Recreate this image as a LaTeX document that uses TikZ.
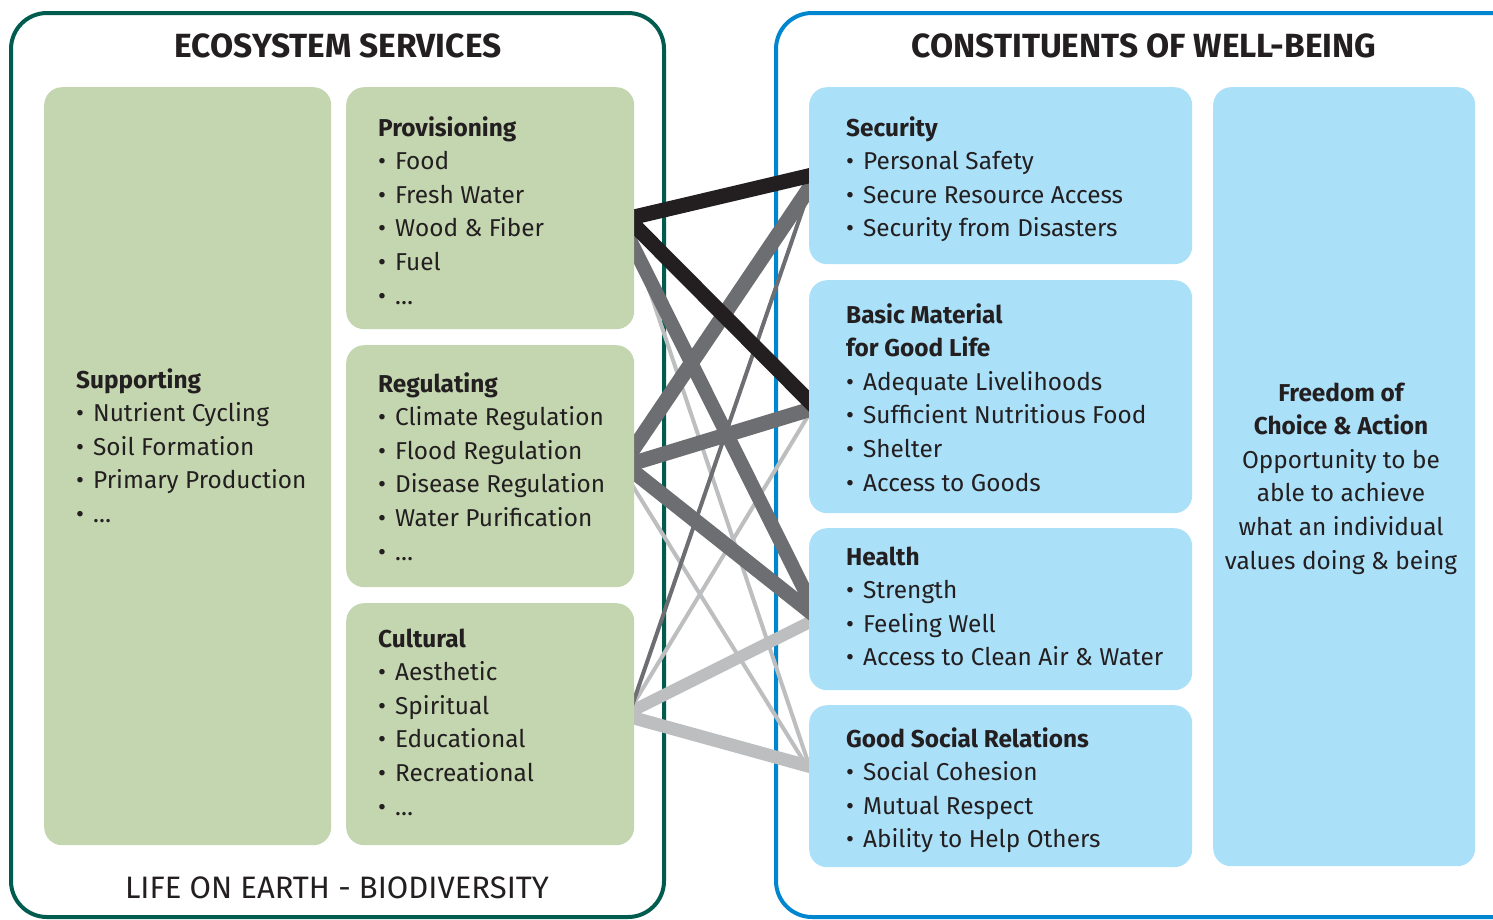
\documentclass[tikz,border=0pt]{standalone}
\usepackage{fontspec}
\setmainfont{Fira Sans}
\definecolor{ecogreen}{RGB}{0,92,78}
\definecolor{wbblue}{RGB}{0,134,206}
\definecolor{boxgreen}{RGB}{196,214,176}
\definecolor{boxblue}{RGB}{171,224,249}
\definecolor{ink}{RGB}{35,31,32}
\definecolor{linkblack}{RGB}{35,31,32}
\definecolor{linkgray}{RGB}{109,110,113}
\definecolor{linklight}{RGB}{188,190,192}
\pgfdeclarelayer{panels}
\pgfdeclarelayer{links}
\pgfsetlayers{panels,links,main}
\newcommand\bul{•\hspace{9pt}}
\begin{document}
\begin{tikzpicture}[x=1pt,y=-1pt,
  gbox/.style={fill=boxgreen, rounded corners=18pt, inner sep=0pt, anchor=north west},
  bbox/.style={fill=boxblue, rounded corners=18pt, inner sep=0pt, anchor=north west},
  headtxt/.style={font=\fontsize{33.5}{40}\selectfont\bfseries, text=ink, inner sep=0pt, anchor=base},
  titletxt/.style={font=\fontsize{24.4}{29}\selectfont\bfseries, text=ink, inner sep=0pt, anchor=base west},
  bodytxt/.style={font=\fontsize{24.4}{29}\selectfont, text=ink, inner sep=0pt, anchor=base west},
  link/.style={line cap=butt, shorten <=-25pt, shorten >=-25pt},
  strongblack/.style={link, draw=linkblack, line width=15pt},
  stronggray/.style={link, draw=linkgray, line width=15pt},
  thingray/.style={link, draw=linkgray, line width=4pt},
  stronglight/.style={link, draw=linklight, line width=12pt},
  thinlight/.style={link, draw=linklight, line width=4pt}]
\useasboundingbox (0,0) rectangle (1493,919);
\begin{pgfonlayer}{panels}
\clip (0,0) rectangle (1493,919);
\draw[draw=ecogreen, line width=4pt, fill=white, rounded corners=36pt] (11,13) rectangle (664,917);
\draw[draw=wbblue, line width=4pt, fill=white, rounded corners=36pt] (776,13) rectangle (1530,917);
\end{pgfonlayer}

% headings
\node[headtxt] (eshead) at (338,57) {ECOSYSTEM SERVICES};
\node[headtxt] (wbhead) at (1144,57) {CONSTITUENTS OF WELL-BEING};
\node[font=\fontsize{31}{36}\selectfont, text=ink, inner sep=0pt, anchor=base] (life) at (337,898) {LIFE ON EARTH - BIODIVERSITY};

% boxes
\node[gbox, minimum width=287pt, minimum height=758pt] (supp) at (44,87) {};
\node[gbox, minimum width=288pt, minimum height=242pt] (prov) at (346,87) {};
\node[gbox, minimum width=288pt, minimum height=242pt] (regu) at (346,345) {};
\node[gbox, minimum width=288pt, minimum height=242pt] (cult) at (346,603) {};
\node[bbox, minimum width=383pt, minimum height=177pt] (secu) at (809,87) {};
\node[bbox, minimum width=383pt, minimum height=233pt] (basic) at (809,280) {};
\node[bbox, minimum width=383pt, minimum height=162pt] (heal) at (809,528) {};
\node[bbox, minimum width=383pt, minimum height=162pt] (social) at (809,705) {};
\node[bbox, minimum width=262pt, minimum height=779pt] (free) at (1213,87) {};

% link end points
\coordinate (pS) at (634,217);
\coordinate (pB) at (634,225);
\coordinate (pH) at (634,248);
\coordinate (pG) at (634,244);
\coordinate (rS) at (634,448);
\coordinate (rB) at (634,463);
\coordinate (rH) at (634,472);
\coordinate (rG) at (634,488);
\coordinate (cS) at (634,700);
\coordinate (cB) at (634,703);
\coordinate (cH) at (634,710);
\coordinate (cG) at (634,718);
\coordinate (sP) at (808,176);
\coordinate (sR) at (808,190);
\coordinate (sC) at (808,194);
\coordinate (bP) at (808,400);
\coordinate (bR) at (808,410);
\coordinate (bC) at (808,416);
\coordinate (hP) at (808,597);
\coordinate (hR) at (808,610);
\coordinate (hC) at (808,623);
\coordinate (gP) at (808,762);
\coordinate (gR) at (808,768);
\coordinate (gC) at (808,766);

\begin{pgfonlayer}{links}
\draw[thinlight] (pG) -- (gP);
\draw[thinlight] (rG) -- (gR);
\draw[thinlight] (cB) -- (bC);
\draw[stronglight] (cH) -- (hC);
\draw[stronglight, line width=13pt] (cG) -- (gC);
\draw[thingray] (cS) -- (sC);
\draw[stronggray] (rS) -- (sR);
\draw[stronggray] (rB) -- (bR);
\draw[stronggray] (rH) -- (hR);
\draw[stronggray, line width=14pt] (pH) -- (hP);
\draw[strongblack] (pB) -- (bP);
\draw[strongblack] (pS) -- (sP);
\end{pgfonlayer}

% texts
\node[titletxt] (supp-t) at (76,388) {Supporting};
\foreach \t [count=\i] in {{\bul Nutrient Cycling},{\bul Soil Formation},{\bul Primary Production},{\bul …}}
  \node[bodytxt] (supp-\i) at (76,{388+33.6*\i}) {\t};

\node[titletxt] (prov-t) at (378,136) {Provisioning};
\foreach \t [count=\i] in {{\bul Food},{\bul Fresh Water},{\bul Wood \& Fiber},{\bul Fuel},{\bul …}}
  \node[bodytxt] (prov-\i) at (378,{136+33.6*\i}) {\t};

\node[titletxt] (regu-t) at (378,392) {Regulating};
\foreach \t [count=\i] in {{\bul Climate Regulation},{\bul Flood Regulation},{\bul Disease Regulation},{\bul Water Purification},{\bul …}}
  \node[bodytxt] (regu-\i) at (378,{392+33.6*\i}) {\t};

\node[titletxt] (cult-t) at (378,647) {Cultural};
\foreach \t [count=\i] in {{\bul Aesthetic},{\bul Spiritual},{\bul Educational},{\bul Recreational},{\bul …}}
  \node[bodytxt] (cult-\i) at (378,{647+33.6*\i}) {\t};

\node[titletxt] (secu-t) at (846,136) {Security};
\foreach \t [count=\i] in {{\bul Personal Safety},{\bul Secure Resource Access},{\bul Security from Disasters}}
  \node[bodytxt] (secu-\i) at (846,{136+33.6*\i}) {\t};

\node[titletxt] (basic-t1) at (846,323) {Basic Material};
\node[titletxt] (basic-t2) at (846,356.6) {for Good Life};
\foreach \t [count=\i] in {{\bul Adequate Livelihoods},{\bul Sufficient Nutritious Food},{\bul Shelter},{\bul Access to Goods}}
  \node[bodytxt] (basic-\i) at (846,{356.6+33.6*\i}) {\t};

\node[titletxt] (heal-t) at (846,565) {Health};
\foreach \t [count=\i] in {{\bul Strength},{\bul Feeling Well},{\bul Access to Clean Air \& Water}}
  \node[bodytxt] (heal-\i) at (846,{565+33.6*\i}) {\t};

\node[titletxt] (social-t) at (846,747) {Good Social Relations};
\foreach \t [count=\i] in {{\bul Social Cohesion},{\bul Mutual Respect},{\bul Ability to Help Others}}
  \node[bodytxt] (social-\i) at (846,{747+33.6*\i}) {\t};

\node[titletxt, anchor=base] (free-t1) at (1341,401) {Freedom of};
\node[titletxt, anchor=base] (free-t2) at (1341,434.6) {Choice \& Action};
\foreach \t [count=\i] in {{Opportunity to be},{able to achieve},{what an individual},{values doing \& being}}
  \node[bodytxt, anchor=base] (free-\i) at (1341,{434.6+33.6*\i}) {\t};
\end{tikzpicture}
\end{document}
